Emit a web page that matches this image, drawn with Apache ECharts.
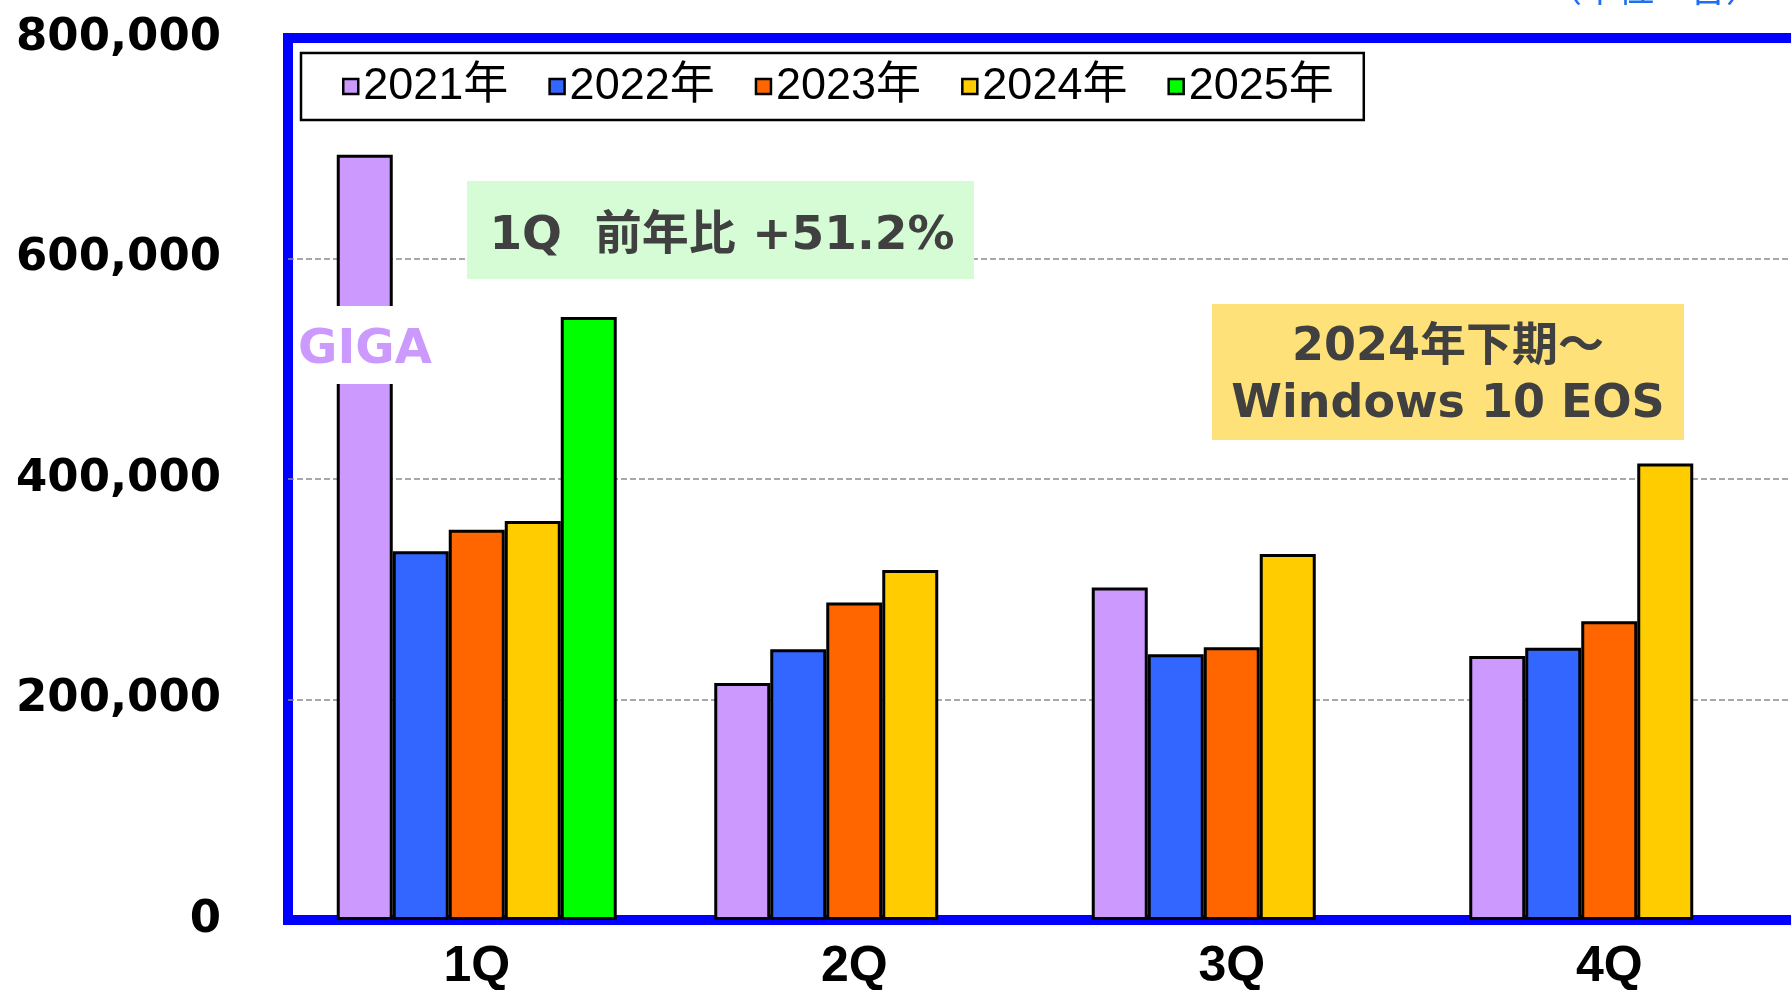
<!DOCTYPE html>
<html>
<head>
<meta charset="utf-8">
<title>Quarterly shipments</title>
<script src="https://cdn.jsdelivr.net/npm/echarts@6/dist/echarts.min.js"></script>
<style>
  html, body { margin: 0; padding: 0; background: #fff; }
  #chart { width: 1791px; height: 990px; }
</style>
</head>
<body>
<div id="chart"></div>
<script>
// quarters on the x axis
const quarters = ["1Q", "2Q", "3Q", "4Q"];
const yearNames = ["2021年", "2022年", "2023年", "2024年", "2025年"];

// units per quarter
const y2021 = [694000, 215000, 301500, 239500];
const y2022 = [334500, 245500, 241000, 247000];
const y2023 = [354000, 288000, 247500, 271000];
const y2024 = [362000, 317500, 332000, 414000];
const y2025 = [547000, "-", "-", "-"];

const yTicks = [0, 200000, 400000, 600000, 800000];

const barColors = ["#cc99ff", "#3366ff", "#ff6600", "#ffcc00", "#00ff00"];
const allYears = [y2021, y2022, y2023, y2024, y2025];

const noteFont = "'DejaVu Sans', 'Noto Sans CJK JP', sans-serif";
const noteColor = "#404040";

const chart = echarts.init(document.getElementById("chart"));

chart.setOption({
  animation: false,
  backgroundColor: "#fff",
  grid: {
    left: 288,
    top: 38,
    width: 1510,
    height: 882,
    outerBoundsMode: "none",
    containLabel: false,
    show: true,
    borderColor: "#0000ff",
    borderWidth: 10,
    backgroundColor: "transparent"
  },
  legend: {
    data: yearNames,
    left: 301,
    top: 53,
    orient: "horizontal",
    padding: [11, 30, 11, 41],
    itemGap: 40,
    itemWidth: 15,
    itemHeight: 15,
    icon: "rect",
    borderColor: "#000",
    borderWidth: 2.5,
    backgroundColor: "#fff",
    itemStyle: { borderColor: "#000", borderWidth: 2.5 },
    textStyle: {
      fontFamily: "'Liberation Sans', 'Noto Sans CJK JP', sans-serif",
      fontSize: 45,
      lineHeight: 44,
      color: "#000"
    }
  },
  xAxis: {
    type: "category",
    data: quarters,
    axisLine: { show: false },
    axisTick: { show: false },
    axisLabel: {
      margin: 22,
      fontFamily: "'Liberation Sans', Arial, sans-serif",
      fontWeight: "bold",
      fontSize: 50,
      lineHeight: 50,
      color: "#000"
    }
  },
  yAxis: {
    type: "value",
    min: yTicks[0],
    max: yTicks[yTicks.length - 1],
    interval: yTicks[1] - yTicks[0],
    axisLine: { show: false },
    axisTick: { show: false },
    splitLine: {
      show: true,
      showMinLine: false,
      showMaxLine: false,
      lineStyle: { color: "#8c8c8c", width: 1.5, type: [6, 3] }
    },
    axisLabel: {
      margin: 67,
      fontFamily: "'DejaVu Sans', Verdana, sans-serif",
      fontWeight: "bold",
      fontSize: 45,
      color: "#000",
      formatter: (v) => v.toLocaleString("en-US")
    }
  },
  series: allYears.map((vals, i) => ({
    name: yearNames[i],
    type: "bar",
    data: vals,
    barWidth: 56,
    barGap: "0%",
    itemStyle: { color: barColors[i], borderColor: "#000", borderWidth: 3 }
  })),
  graphic: [
    // GIGA label on the 2021 1Q bar
    { type: "rect", z: 100, shape: { x: 294, y: 306, width: 140, height: 78 }, style: { fill: "#fff" } },
    {
      type: "text", z: 101, x: 365, y: 351,
      style: {
        text: "GIGA", fill: "#cc99ff", align: "center", verticalAlign: "middle",
        font: "bold 48px " + noteFont
      }
    },
    // year-on-year note
    { type: "rect", z: 100, shape: { x: 467, y: 181, width: 507, height: 98 }, style: { fill: "#d5fcd5" } },
    {
      type: "text", z: 101, x: 722, y: 237,
      style: {
        text: "1Q  前年比 +51.2%", fill: noteColor, align: "center", verticalAlign: "middle",
        font: "bold 47px " + noteFont
      }
    },
    // Windows 10 note
    { type: "rect", z: 100, shape: { x: 1212, y: 304, width: 472, height: 136 }, style: { fill: "#ffe17a" } },
    {
      type: "text", z: 101, x: 1448, y: 377,
      style: {
        text: "2024年下期～\nWindows 10 EOS", fill: noteColor, align: "center", verticalAlign: "middle",
        lineHeight: 57, font: "bold 46px " + noteFont
      }
    },
    // unit note, cut by the top edge
    {
      type: "text", z: 101, x: 1762, y: 6,
      style: {
        text: "（単位：台）", fill: "#1e6ef0", align: "right", verticalAlign: "bottom",
        font: "36px 'Noto Sans CJK JP', sans-serif"
      }
    }
  ]
});
</script>
</body>
</html>
